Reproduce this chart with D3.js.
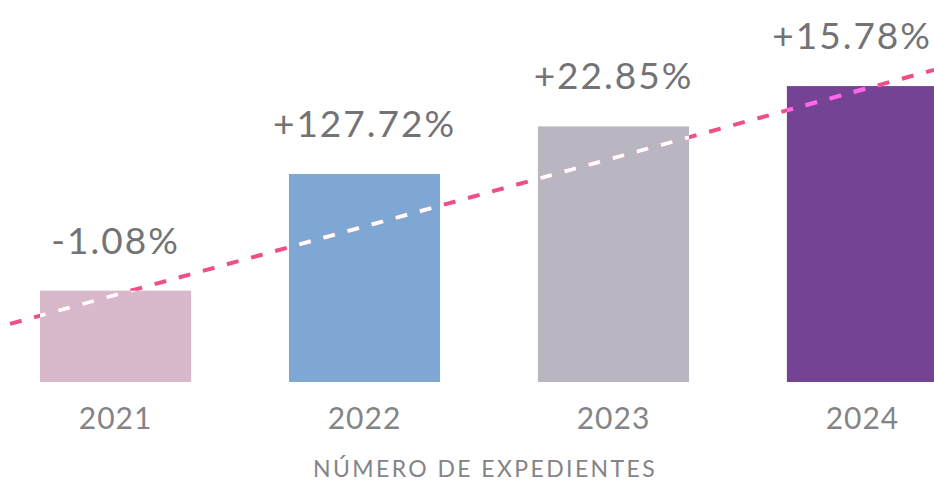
<!DOCTYPE html>
<html>
<head>
<meta charset="utf-8">
<script src="https://cdn.jsdelivr.net/npm/d3@7"></script>
<style>
  html, body { margin: 0; padding: 0; background: #fff; }
  text { font-family: Lato, "Open Sans", sans-serif; }
</style>
</head>
<body>
<div id="div_chart"></div>
<script>
// data
const years = ["2021", "2022", "2023", "2024"];
const expedientes = [4630, 10543, 12952, 14996];
const changeLabels = ["-1.08%", "+127.72%", "+22.85%", "+15.78%"];
const barColors = ["#d8b9cc", "#7fa7d4", "#b9b6c1", "#754394"];
// trend line, value at the first and last category
const trendFirst = 4413, trendLast = 14819;

const width = 934, height = 482;
const baseY = 382;

const svg = d3.select("#div_chart")
  .append("svg")
    .attr("width", width)
    .attr("height", height);

// x scale
const x = d3.scaleBand()
  .domain(years)
  .range([40, 938])
  .paddingInner(0.393)
  .paddingOuter(0);

// y scale
const y = d3.scaleLinear()
  .domain([0, 15000])
  .range([baseY, 86]);

const data = years.map((yr, i) => ({year: yr, value: expedientes[i], label: changeLabels[i], color: barColors[i]}));

// bars
svg.selectAll("rect.bar")
  .data(data)
  .join("rect")
    .attr("class", "bar")
    .attr("x", d => x(d.year))
    .attr("y", d => y(d.value))
    .attr("width", x.bandwidth())
    .attr("height", d => y(0) - y(d.value))
    .attr("fill", d => d.color);

// clip paths for the trend line over bars
const defs = svg.append("defs");
defs.append("clipPath").attr("id", "clipLight")
  .selectAll("rect")
  .data(data.slice(0, 3))
  .join("rect")
    .attr("x", d => x(d.year))
    .attr("y", d => y(d.value))
    .attr("width", x.bandwidth())
    .attr("height", d => y(0) - y(d.value));
defs.append("clipPath").attr("id", "clipDark")
  .selectAll("rect")
  .data(data.slice(3))
  .join("rect")
    .attr("x", d => x(d.year))
    .attr("y", d => y(d.value))
    .attr("width", x.bandwidth())
    .attr("height", d => y(0) - y(d.value));

// trend line in category index units
const step = x.step();
const cx0 = x(years[0]) + x.bandwidth() / 2;
const slope = (trendLast - trendFirst) / (years.length - 1);
const iStart = (10 - cx0) / step, iEnd = (width - cx0) / step;
const trendPts = [iStart, iEnd].map(i => [cx0 + i * step, y(trendFirst + slope * i)]);
const line = d3.line();

const trendG = svg.append("g");
trendG.append("path")
  .attr("d", line(trendPts))
  .attr("stroke", "#ee4f88");
trendG.append("path")
  .attr("d", line(trendPts))
  .attr("stroke", "#ffffff")
  .attr("clip-path", "url(#clipLight)");
trendG.append("path")
  .attr("d", line(trendPts))
  .attr("stroke", "#ff66ee")
  .attr("clip-path", "url(#clipDark)");
trendG.selectAll("path")
  .attr("fill", "none")
  .attr("stroke-width", 4)
  .attr("stroke-dasharray", "12 13");

// percentage labels
const pct = svg.selectAll("text.pct")
  .data(data)
  .join("text")
    .attr("class", "pct")
    .attr("x", d => x(d.year) + x.bandwidth() / 2)
    .attr("y", d => y(d.value) - 37)
    .attr("text-anchor", "middle")
    .attr("font-size", 37)
    .attr("letter-spacing", 2)
    .attr("fill", "#737376")
    .text(d => d.label);

// keep the last label inside the picture
pct.each(function() {
  const t = d3.select(this);
  const w = this.getComputedTextLength();
  const cx = +t.attr("x");
  if (cx + w / 2 > width - 2) t.attr("x", width - 2 - w / 2);
});

// year axis
const xAxis = svg.append("g")
  .attr("transform", `translate(0,${baseY})`)
  .call(d3.axisBottom(x).tickSize(0).tickPadding(26));
xAxis.select(".domain").remove();
xAxis.selectAll("text")
  .attr("font-size", 30)
  .attr("font-family", "Lato, 'Open Sans', sans-serif")
  .attr("letter-spacing", 1)
  .attr("fill", "#848487");

// axis title
svg.append("text")
  .attr("x", 485)
  .attr("y", 477)
  .attr("text-anchor", "middle")
  .attr("font-size", 23)
  .attr("letter-spacing", 2.4)
  .attr("fill", "#848487")
  .text("NÚMERO DE EXPEDIENTES");
</script>
</body>
</html>
